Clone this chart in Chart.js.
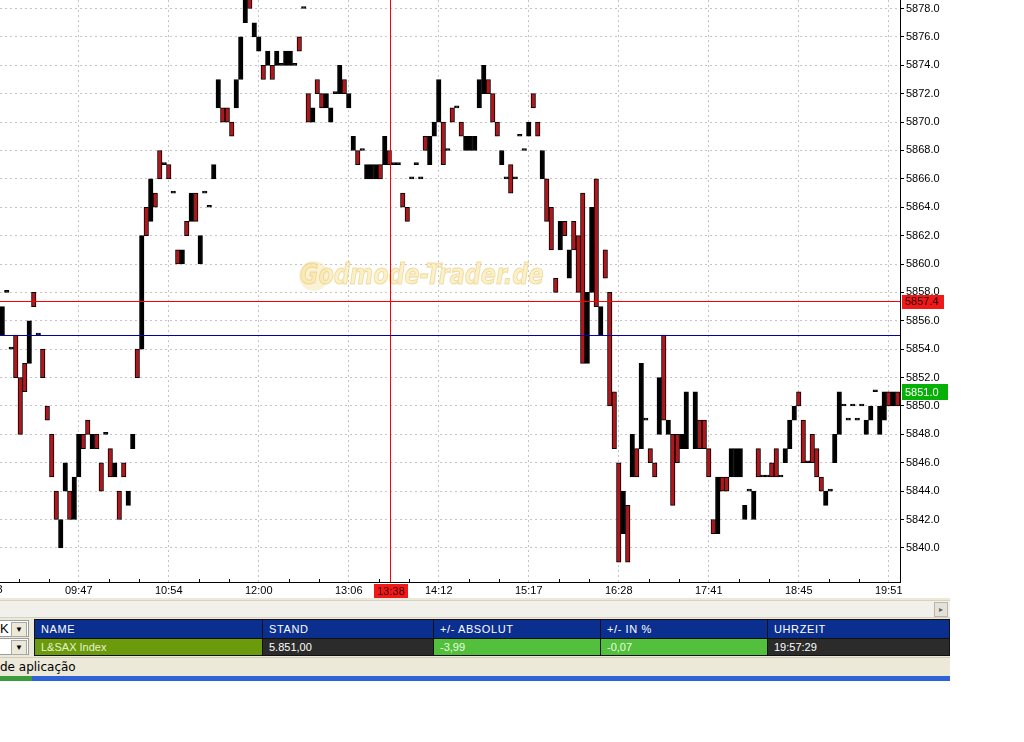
<!DOCTYPE html>
<html lang="de">
<head>
<meta charset="UTF-8">
<title>L&amp;SAX Index</title>
<script src="https://cdn.jsdelivr.net/npm/chart.js"></script>
<style>
  body { margin: 0; background: #fff; font-family: Arial, "Liberation Sans", sans-serif; }
  #app { position: relative; width: 950px; height: 681px; background: #ece9d8; overflow: hidden; }
  #chartBox { position: absolute; left: 0; top: 0; width: 950px; height: 598px; background: #fff; }
  #hscroll { position: absolute; left: 0; top: 600px; width: 950px; height: 16px; background: #f1f0ea; border-top: 1px solid #d6d3c6; border-bottom: 1px solid #d6d3c6; }
  #hbtn { position: absolute; right: 2px; top: 1px; width: 12px; height: 13px; background: #e4e2d8; border: 1px solid #b9b6a8; font-size: 8px; color: #666; text-align: center; line-height: 13px; }
  .combo { position: absolute; left: -10px; width: 28px; height: 15px; background: #fff; border: 1px solid #9d9d9d; font-size: 13px; line-height: 15px; padding-left: 9px; box-sizing: content-box; }
  .combo .dd { position: absolute; right: 1px; top: 1px; width: 14px; height: 13px; background: #ece9d8; border: 1px solid #a8a8a8; font-size: 8px; line-height: 13px; text-align: center; }
  #quote { position: absolute; left: 34px; top: 619px; width: 915px; border-collapse: collapse; font-size: 11px; color: #fff; table-layout: fixed; }
  #quote td { border: 1px solid #111; padding: 0 0 0 6px; white-space: nowrap; overflow: hidden; }
  #quote tr.head td { background: #0b2f8e; height: 18px; letter-spacing: 0.6px; }
  #quote tr.row td { height: 16px; }
  #status { position: absolute; left: 0; top: 657px; width: 950px; height: 19px; background: #ece9d8; border-top: 1px solid #d0cdbf; font-size: 12px; line-height: 19px; font-family: "DejaVu Sans", sans-serif; color: #000; }
  #task { position: absolute; left: 0; top: 676px; width: 950px; height: 5px; background: #2d63d6; }
  #task .start { position: absolute; left: 0; top: 0; width: 32px; height: 5px; background: #3c9b3c; }
</style>
</head>
<body>
<div id="app">
  <div id="chartBox"><canvas id="chart" width="950" height="598"></canvas></div>
  <div id="hscroll"><div id="hbtn">&#9656;</div></div>
  <div class="combo" style="top:620px">K<span class="dd">&#9660;</span></div>
  <div class="combo" style="top:638px"><span class="dd">&#9660;</span></div>
  <table id="quote">
    <colgroup><col style="width:228px"><col style="width:171px"><col style="width:167px"><col style="width:167px"><col style="width:182px"></colgroup>
    <tr class="head"><td>NAME</td><td>STAND</td><td>+/- ABSOLUT</td><td>+/- IN %</td><td>UHRZEIT</td></tr>
    <tr class="row">
      <td style="background:#6b9a0c;color:#e6f3cf">L&amp;SAX Index</td>
      <td style="background:#2b2b2b">5.851,00</td>
      <td style="background:#52c03c;color:#eaffe0">-3,99</td>
      <td style="background:#52c03c;color:#eaffe0">-0,07</td>
      <td style="background:#2b2b2b">19:57:29</td>
    </tr>
  </table>
  <div id="status">de aplicação</div>
  <div id="task"><div class="start"></div></div>
</div>

<script>
// candle bodies, one per slot (null = no trade)
const opens = [
  5855, 5858, 5854, 5855, 5852, 5853, 5853, 5858, 5855, 5854,
  5850, 5848, 5844, 5840, 5844, 5844, 5842, 5845, 5848, 5849,
  5847, 5848, 5846, 5848, 5847, 5845, 5844, 5846, 5843, 5847,
  5854, 5854, 5864, 5863, 5865, 5868, 5867, 5867, 5865, 5861,
  5860, 5863, 5863, 5865, 5860, 5865, 5864, 5866, 5871, 5871,
  5871, 5870, 5871, 5873, 5877, 5879, 5876, 5875, 5874, 5874,
  5874, 5874, 5874, 5874, 5874, 5874, 5876, 5878, 5872, 5870,
  5873, 5872, 5871, 5870, 5872, 5872, 5873, 5871, 5868, 5868,
  5868, 5866, 5866, 5866, 5867, 5867, 5868, 5867, 5867, 5865,
  5864, 5866, 5867, 5866, 5869, 5867, 5869, 5870, 5870, 5868,
  5871, 5871, 5870, 5868, 5868, 5868, 5871, 5872, 5873, 5872,
  5870, 5867, 5866, 5867, 5866, 5869, 5868, 5869, 5872, 5870,
  5866, 5866, 5864, 5859, 5861, 5863, 5859, 5863, 5862, 5865,
  5853, 5858, 5866, 5855, 5861, 5858, 5851, 5846, 5841, 5843,
  5845, 5847, 5847, 5849, 5847, 5846, 5848, 5855, 5848, 5848,
  5848, 5847, 5847, null, 5847, 5849, 5849, 5847, 5842, 5841,
  5845, 5845, 5845, 5845, 5845, 5842, 5844, 5842, 5847, 5845,
  5845, 5846, 5847, 5845, 5846, 5847, 5849, 5851, 5849, 5846,
  5848, 5847, 5845, 5843, 5844, 5846, 5848, 5850, 5849, 5850,
  5849, 5850, 5848, 5849, 5851, 5848, 5849, 5851, 5850, 5851
];
const closes = [
  5857, 5858, 5854, 5852, 5848, 5851, 5856, 5857, 5855, 5852,
  5849, 5845, 5842, 5842, 5846, 5842, 5845, 5848, 5847, 5848,
  5848, 5847, 5844, 5848, 5845, 5846, 5842, 5845, 5844, 5848,
  5852, 5862, 5862, 5866, 5864, 5866, 5867, 5866, 5865, 5860,
  5861, 5862, 5865, 5863, 5862, 5865, 5864, 5867, 5873, 5870,
  5870, 5869, 5873, 5876, 5879, 5878, 5877, 5876, 5873, 5875,
  5873, 5875, 5874, 5875, 5875, 5874, 5875, 5878, 5870, 5871,
  5872, 5871, 5872, 5871, 5872, 5874, 5872, 5872, 5869, 5867,
  5868, 5867, 5867, 5867, 5866, 5869, 5867, 5867, 5867, 5864,
  5863, 5866, 5867, 5866, 5868, 5869, 5870, 5873, 5867, 5868,
  5870, 5871, 5869, 5869, 5869, 5869, 5873, 5874, 5872, 5870,
  5869, 5868, 5866, 5865, 5866, 5869, 5868, 5870, 5871, 5869,
  5868, 5863, 5861, 5858, 5863, 5862, 5861, 5861, 5858, 5853,
  5858, 5864, 5857, 5857, 5859, 5850, 5847, 5839, 5844, 5839,
  5848, 5845, 5853, 5849, 5846, 5845, 5852, 5849, 5849, 5843,
  5846, 5848, 5851, null, 5851, 5847, 5847, 5845, 5841, 5845,
  5844, 5844, 5847, 5847, 5847, 5843, 5844, 5844, 5845, 5845,
  5845, 5845, 5845, 5845, 5847, 5849, 5850, 5850, 5846, 5846,
  5846, 5845, 5844, 5844, 5844, 5848, 5851, 5850, 5849, 5850,
  5849, 5850, 5849, 5850, 5851, 5850, 5851, 5850, 5851, 5850
];
const slots = opens.map((_, i) => i);

// time axis: a label every 20 slots, the first one sits just left of the plot
const tickLabels = ['08:43', '09:47', '10:54', '12:00', '13:06', '14:12', '15:17', '16:28', '17:41', '18:45', '19:51'];
const firstTickSlot = -3;
const tickStep = 20;

const yTicks = [5840, 5842, 5844, 5846, 5848, 5850, 5852, 5854, 5856, 5858,
                5860, 5862, 5864, 5866, 5868, 5870, 5872, 5874, 5876, 5878];
const yMin = 5837.6, yMax = 5878.6;

const lastPrice = 5851.0;   // green marker
const alarmLevel = 5857.4;  // red line
const blueLevel = 5855.0;   // blue line
const crossSlot = 86.2;     // red crosshair
const crossTime = '13:38';
const watermark = 'Godmode-Trader.de';

const RED = '#b0161c';

function labelAt(i) {
  const k = (i - firstTickSlot) / tickStep;
  return Number.isInteger(k) && k >= 0 && k < tickLabels.length ? tickLabels[k] : null;
}

const overlay = {
  id: 'overlay',
  beforeDatasetsDraw(chart) {
    const { ctx } = chart;
    ctx.save();
    ctx.globalAlpha = 0.55;
    ctx.fillStyle = '#f7e8b4';
    ctx.beginPath();
    ctx.arc(314, 276, 15, 0, Math.PI * 2);
    ctx.fill();
    ctx.translate(300, 277);
    ctx.scale(0.8, 1);
    ctx.font = 'italic bold 28px "DejaVu Sans", sans-serif';
    ctx.textBaseline = 'middle';
    ctx.fillStyle = '#f6e3a0';
    ctx.fillText(watermark, 0, 0);
    ctx.lineWidth = 1.2;
    ctx.strokeStyle = '#e9c86e';
    ctx.strokeText(watermark, 0, 0);
    ctx.restore();
  },
  afterDraw(chart) {
    const { ctx, chartArea: a, scales: { x, y } } = chart;
    ctx.save();
    ctx.setLineDash([]);

    // horizontal levels and crosshair as 1px fills
    const ry = Math.round(y.getPixelForValue(alarmLevel));
    const by = Math.round(y.getPixelForValue(blueLevel));
    const cx = Math.round(x.getPixelForValue(crossSlot));
    ctx.fillStyle = '#ff0000';
    ctx.fillRect(a.left, ry, a.right - a.left, 1);
    ctx.fillRect(cx, a.top, 1, a.bottom - a.top);
    ctx.fillStyle = '#0000b0';
    ctx.fillRect(a.left, by, a.right - a.left, 1);

    // axis lines
    ctx.fillStyle = '#000';
    ctx.fillRect(a.left, Math.round(a.bottom), a.right - a.left + 1, 1);
    ctx.fillRect(Math.round(a.right), a.top, 1, a.bottom - a.top + 1);

    // minor ticks on the time axis
    for (let k = -1; k <= tickLabels.length * 3; k++) {
      if (k % 3 === 0) continue;
      const px = Math.round(x.getPixelForValue(firstTickSlot + k * tickStep / 3));
      if (px < a.left || px > a.right) continue;
      ctx.fillRect(px, Math.round(a.bottom) - 3, 1, 3);
    }

    ctx.font = '11px Arial, "Liberation Sans", sans-serif';
    ctx.textBaseline = 'middle';

    // first time label, mostly cut off at the left edge
    ctx.textAlign = 'center';
    ctx.fillText(tickLabels[0], x.getPixelForValue(firstTickSlot), a.bottom + 8);

    // price markers on the right axis
    ctx.textAlign = 'left';
    ctx.fillStyle = '#f01818';
    ctx.fillRect(a.right + 2, ry - 6, 42, 14);
    ctx.fillStyle = '#2a0000';
    ctx.fillText(alarmLevel.toFixed(1), a.right + 5, ry + 1);

    const gy = Math.round(y.getPixelForValue(lastPrice));
    ctx.fillStyle = '#07b007';
    ctx.fillRect(a.right + 2, gy - 8, 46, 16);
    ctx.fillStyle = '#fff';
    ctx.fillText(lastPrice.toFixed(1), a.right + 5, gy + 1);

    // crosshair time box
    ctx.fillStyle = '#f01818';
    ctx.fillRect(cx - 16, a.bottom + 2, 34, 14);
    ctx.fillStyle = '#3a0000';
    ctx.textAlign = 'center';
    ctx.fillText(crossTime, cx + 1, a.bottom + 10);
    ctx.restore();
  }
};

new Chart(document.getElementById('chart'), {
  type: 'bar',
  data: {
    labels: slots,
    datasets: [{
      data: opens.map((o, i) => o === null ? null : [o, closes[i]]),
      backgroundColor: c => {
        const i = c.dataIndex;
        return closes[i] < opens[i] ? RED : '#000';
      },
      borderColor: '#000',
      borderWidth: 1,
      borderSkipped: false,
      minBarLength: 2,
      barPercentage: 1,
      categoryPercentage: 1
    }]
  },
  options: {
    responsive: false,
    animation: false,
    events: [],
    layout: { padding: 0 },
    plugins: { legend: { display: false }, tooltip: { enabled: false } },
    scales: {
      x: {
        offset: true,
        afterBuildTicks: s => { s.ticks = s.ticks.filter(t => labelAt(t.value) !== null); },
        afterFit: s => { s.height = 16; s.paddingLeft = 0; s.paddingRight = 0; },
        grid: { offset: false, color: '#c4c4c4', drawTicks: false },
        border: { display: false, dash: [2, 3] },
        ticks: {
          autoSkip: false, maxRotation: 0, padding: 2, color: '#000',
          font: { family: 'Arial, "Liberation Sans", sans-serif', size: 11 },
          callback: v => labelAt(v)
        }
      },
      y: {
        position: 'right',
        min: yMin,
        max: yMax,
        afterBuildTicks: s => { s.ticks = yTicks.map(v => ({ value: v })); },
        afterFit: s => { s.width = 50; s.paddingTop = 0; s.paddingBottom = 0; },
        grid: { color: '#c4c4c4', tickColor: '#000', tickLength: 4 },
        border: { display: false, dash: [2, 3] },
        ticks: {
          padding: 2, color: '#000',
          font: { family: 'Arial, "Liberation Sans", sans-serif', size: 11 },
          callback: v => v.toFixed(1)
        }
      }
    }
  },
  plugins: [overlay]
});
</script>
</body>
</html>
